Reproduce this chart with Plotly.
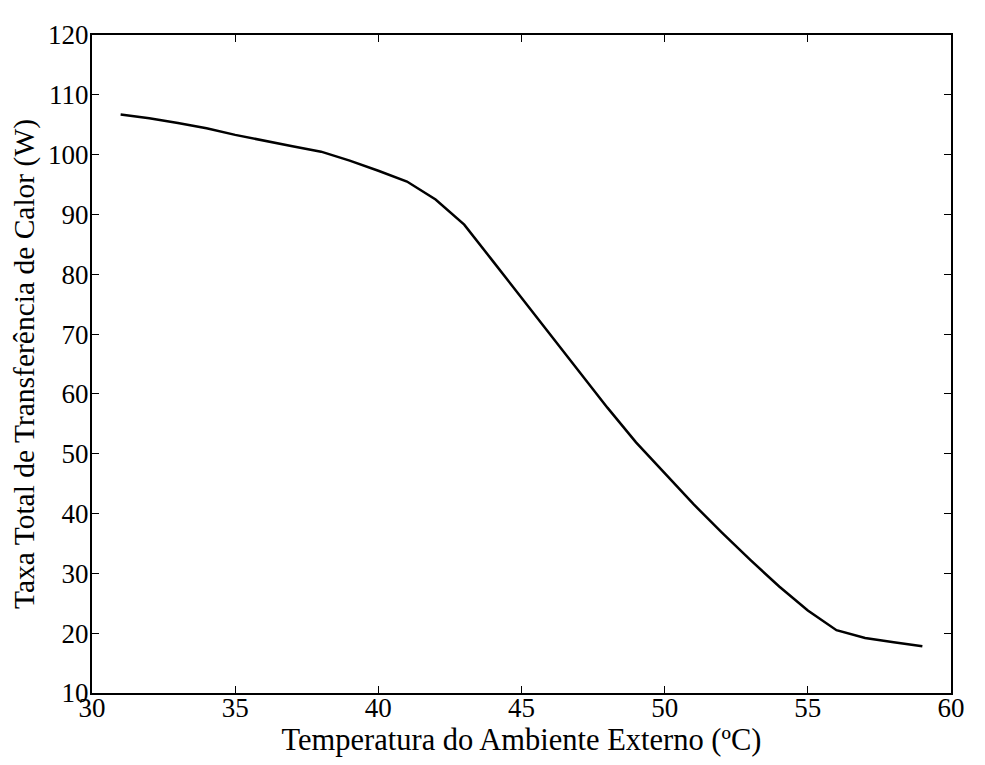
import plotly.graph_objects as go

temperatura = [31, 32, 33, 34, 35, 36, 37, 38, 39, 40, 41, 42, 43, 44, 45, 46, 47, 48, 49, 50, 51, 52, 53, 54, 55, 56, 57, 58, 59]
taxa_calor = [106.7, 106.1, 105.3, 104.4, 103.3, 102.3, 101.4, 100.5, 99.0, 97.3, 95.5, 92.5, 88.3,
              82.2, 76.1, 69.9, 63.8, 57.7, 51.9, 46.7, 41.6, 36.8, 32.2, 27.8, 23.8, 20.5, 19.2, 18.5, 17.8]

x_ticks = [30, 35, 40, 45, 50, 55, 60]
y_ticks = [10, 20, 30, 40, 50, 60, 70, 80, 90, 100, 110, 120]

font_family = "Liberation Serif, Times New Roman, serif"

fig = go.Figure()
fig.add_trace(go.Scatter(x=temperatura, y=taxa_calor, mode="lines",
                         line=dict(color="black", width=2.5), showlegend=False))

axis_common = dict(showline=True, linecolor="black", linewidth=2, mirror="ticks",
                   ticks="inside", ticklen=7, tickwidth=1, tickcolor="black",
                   showgrid=False, zeroline=False, ticklabeloverflow="allow",
                   tickfont=dict(family=font_family, size=27, color="black"))

fig.update_xaxes(range=[30, 60], tickvals=x_ticks, ticktext=[str(v) for v in x_ticks],
                 ticklabelstandoff=-10,
                 title=dict(text="Temperatura do Ambiente Externo (ºC)",
                            font=dict(family=font_family, size=30.5, color="black"), standoff=0),
                 **axis_common)
fig.update_yaxes(range=[10, 120], tickvals=y_ticks, ticktext=[str(v) for v in y_ticks],
                 ticklabelstandoff=-4,
                 title=dict(text="Taxa Total de Transferência de Calor (W)",
                            font=dict(family=font_family, size=29.5, color="black"), standoff=5),
                 **axis_common)

fig.update_layout(width=969, height=749, plot_bgcolor="white", paper_bgcolor="white",
                  margin=dict(l=84, r=14, t=13, b=60))

fig.write_html("out.html")
